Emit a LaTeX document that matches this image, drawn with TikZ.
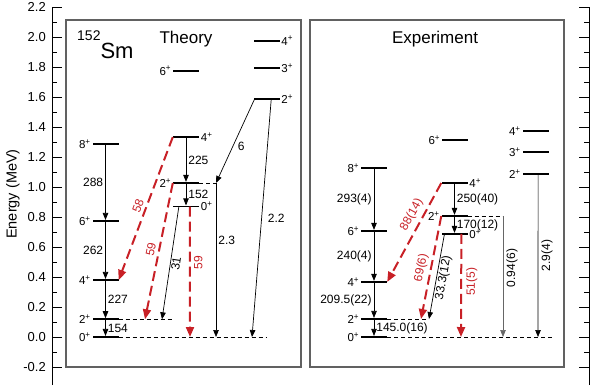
\documentclass[tikz,border=0pt]{standalone}
\usepackage{fontspec}
\setmainfont{Liberation Sans}
\usetikzlibrary{arrows.meta,calc}

\definecolor{trred}{RGB}{200,32,38}
\definecolor{boxgray}{gray}{0.38}

\begin{document}
\begin{tikzpicture}[
    x=1pt, y=150pt,
    level node/.style={rectangle, fill=black, inner sep=0pt, minimum width=26pt, minimum height=1.8pt},
    spin node/.style={inner sep=1.5pt, font=\fontsize{11.5}{12}\selectfont},
    tick node/.style={inner sep=1pt, font=\fontsize{13}{13}\selectfont},
    lab node/.style={inner sep=2pt, font=\fontsize{12}{12}\selectfont},
    red lab/.style={lab node, text=trred},
    trans edge/.style={draw=black, line width=0.7pt, -{Triangle[length=7pt, width=5.5pt]}},
    gray edge/.style={trans edge, draw=black!60},
    red edge/.style={draw=trred, line width=2pt, dash pattern=on 10pt off 5pt, -{Triangle[length=10pt, width=8pt]}},
    ext edge/.style={draw=black, line width=0.6pt, dash pattern=on 4pt off 3pt},
    panel/.style={draw=boxgray, line width=1.2pt}
]
\useasboundingbox (0,-0.32) rectangle (591,2.2467);

% 能量轴: 左侧带刻度标签, 右侧只有刻度
\draw[line width=0.8pt] (52,-0.32) -- (52,2.2);
\draw[line width=0.8pt] (589,-0.32) -- (589,2.2);
\foreach \t [count=\i] in {-0.2,0.0,0.2,0.4,0.6,0.8,1.0,1.2,1.4,1.6,1.8,2.0,2.2} {
    \pgfmathsetmacro\e{0.2*\i-0.4}
    \draw[line width=0.8pt] (52,\e) -- ++(10,0);
    \draw[line width=0.8pt] (589,\e) -- ++(-10,0);
    \node[tick node, anchor=east] (ytick\i) at (47,\e) {\t};
}
\foreach \i in {1,...,12} {
    \pgfmathsetmacro\e{0.2*\i-0.3}
    \draw[line width=0.8pt] (52,\e) -- ++(5,0);
    \draw[line width=0.8pt] (589,\e) -- ++(-5,0);
}
\node[rotate=90, font=\fontsize{14.5}{15}\selectfont] (ylab) at (13,0.953) {Energy (MeV)};

\draw[panel] (66,-0.2) rectangle (301,2.113);
\draw[panel] (310,-0.2) rectangle (564,2.113);
\node[anchor=base west, inner sep=0pt, font=\fontsize{22}{22}\selectfont] (nuc) at (77,1.857)
    {\raisebox{18pt}{\fontsize{14}{14}\selectfont 152}Sm};
\node[anchor=base, font=\fontsize{17}{17}\selectfont] (theo) at (186,1.957) {Theory};
\node[anchor=base, font=\fontsize{17}{17}\selectfont] (expt) at (435,1.957) {Experiment};

% Theory: 基态带, 第二 0+ 带, gamma 带
\node[level node] (T0)  at (105.5, 0.000) {};
\node[level node] (T2)  at (105.5, 0.118) {};
\node[level node] (T4)  at (105.5, 0.380) {};
\node[level node] (T6)  at (105.5, 0.773) {};
\node[level node] (T8)  at (105.5, 1.287) {};
\node[level node] (TB0) at (186,   0.870) {};
\node[level node] (TB2) at (186,   1.027) {};
\node[level node] (TB4) at (186,   1.333) {};
\node[level node] (TB6) at (186,   1.775) {};
\node[level node] (TG2) at (266.5, 1.587) {};
\node[level node] (TG3) at (266.5, 1.791) {};
\node[level node] (TG4) at (266.5, 1.975) {};

\node[spin node, left]  (sT0)  at (T0.west)  {0\textsuperscript{+}};
\node[spin node, left]  (sT2)  at (T2.west)  {2\textsuperscript{+}};
\node[spin node, left]  (sT4)  at (T4.west)  {4\textsuperscript{+}};
\node[spin node, left]  (sT6)  at (T6.west)  {6\textsuperscript{+}};
\node[spin node, left]  (sT8)  at (T8.west)  {8\textsuperscript{+}};
\node[spin node, right] (sTB0) at (TB0.east) {0\textsuperscript{+}};
\node[spin node, left]  (sTB2) at (TB2.west) {2\textsuperscript{+}};
\node[spin node, right] (sTB4) at (TB4.east) {4\textsuperscript{+}};
\node[spin node, left]  (sTB6) at (TB6.west) {6\textsuperscript{+}};
\node[spin node, right] (sTG2) at (TG2.east) {2\textsuperscript{+}};
\node[spin node, right] (sTG3) at (TG3.east) {3\textsuperscript{+}};
\node[spin node, right] (sTG4) at (TG4.east) {4\textsuperscript{+}};

\coordinate (T0x)  at (267, 0);
\coordinate (T2x)  at (173, 0.118);
\coordinate (TB2x) at (216, 1.027);
\coordinate (e59a) at (145, 0.118);
\coordinate (e31)  at (162, 0.118);
\coordinate (e59b) at (190, 0);
\coordinate (e23)  at (216, 0);
\coordinate (e22)  at (252, 0);
\draw[ext edge] (T0.east) -- (T0x);
\draw[ext edge] (T2.east) -- (T2x);
\draw[ext edge] (TB2.east) -- (TB2x);

\draw[trans edge] (T8) -- (T6) node[midway, left, lab node] (l288) {288};
\draw[trans edge] (T6) -- (T4) node[midway, left, lab node] (l262) {262};
\draw[trans edge] (T4) -- (T2) node[midway, right, lab node] (l227) {227};
\draw[trans edge] (T2) -- (T0) node[midway, right, lab node] (l154) {154};
\draw[trans edge] (TB4) -- (TB2) node[midway, right, lab node] (l225) {225};
\draw[trans edge] (TB2) -- (TB0) node[midway, right, lab node] (l152) {152};
\draw[trans edge] ($(TB0.west)!0.23!(TB0.east)$) -- (e31)
    node[midway, sloped, below, lab node, inner sep=1pt] (l31) {31};
\draw[trans edge] (TB2x) -- (e23) node[pos=0.37, right, lab node] (l23) {2.3};
\draw[trans edge] ($(TG2.west)!0.05!(TG2.east)$) -- (TB2x)
    node[pos=0.57, right=3pt, lab node] (l6) {6};
\draw[trans edge] ($(TG2.west)!0.68!(TG2.east)$) -- (e22)
    node[pos=0.5, right=4pt, lab node] (l22) {2.2};

% E2 跃迁 (红色虚线)
\draw[red edge] (TB4.west) -- (T4.east) node[midway, sloped, above, red lab, inner sep=3pt] (l58) {58};
\draw[red edge] (TB2.west) -- (e59a) node[midway, sloped, above, red lab, inner sep=3pt] (l59a) {59};
\draw[red edge] ($(TB0.west)!0.65!(TB0.east)$) -- (e59b)
    node[pos=0.43, rotate=90, anchor=north, red lab, inner sep=3pt] (l59b) {59};

% Experiment
\node[level node] (X0)  at (374,   0.000) {};
\node[level node] (X2)  at (374,   0.120) {};
\node[level node] (X4)  at (374,   0.367) {};
\node[level node] (X6)  at (374,   0.707) {};
\node[level node] (X8)  at (374,   1.127) {};
\node[level node] (XB0) at (454.5, 0.687) {};
\node[level node] (XB2) at (454.5, 0.807) {};
\node[level node] (XB4) at (454.5, 1.027) {};
\node[level node] (XB6) at (455,   1.313) {};
\node[level node] (XG2) at (535.5, 1.087) {};
\node[level node] (XG3) at (535.5, 1.233) {};
\node[level node] (XG4) at (535.5, 1.373) {};

\node[spin node, left]  (sX0)  at (X0.west)  {0\textsuperscript{+}};
\node[spin node, left]  (sX2)  at (X2.west)  {2\textsuperscript{+}};
\node[spin node, left]  (sX4)  at (X4.west)  {4\textsuperscript{+}};
\node[spin node, left]  (sX6)  at (X6.west)  {6\textsuperscript{+}};
\node[spin node, left]  (sX8)  at (X8.west)  {8\textsuperscript{+}};
\node[spin node, right] (sXB0) at (XB0.east) {0\textsuperscript{+}};
\node[spin node, left]  (sXB2) at (XB2.west) {2\textsuperscript{+}};
\node[spin node, right] (sXB4) at (XB4.east) {4\textsuperscript{+}};
\node[spin node, left]  (sXB6) at (XB6.west) {6\textsuperscript{+}};
\node[spin node, left]  (sXG2) at (XG2.west) {2\textsuperscript{+}};
\node[spin node, left]  (sXG3) at (XG3.west) {3\textsuperscript{+}};
\node[spin node, left]  (sXG4) at (XG4.west) {4\textsuperscript{+}};

\coordinate (X0x)  at (552, 0);
\coordinate (X2x)  at (428, 0.120);
\coordinate (XB2x) at (503, 0.807);
\coordinate (e69)  at (421, 0.120);
\coordinate (e33)  at (429, 0.120);
\coordinate (e51)  at (461, 0);
\coordinate (e094) at (503, 0);
\coordinate (e29)  at (538, 0);
\draw[ext edge] (X0.east) -- (X0x);
\draw[ext edge] (X2.east) -- (X2x);
\draw[ext edge] (XB2.east) -- (XB2x);

\draw[trans edge] (X8) -- (X6) node[midway, left, lab node] (l293) {293(4)};
\draw[trans edge] (X6) -- (X4) node[midway, left, lab node] (l240) {240(4)};
\draw[trans edge] (X4) -- (X2) node[midway, left, lab node] (l209) {209.5(22)};
\draw[trans edge] (X2) -- (X0) node[midway, right, lab node] (l145) {145.0(16)};
\draw[trans edge] (XB4) -- (XB2) node[midway, right, lab node] (l250) {250(40)};
\draw[trans edge] (XB2) -- (XB0) node[midway, right, lab node] (l170) {170(12)};
\draw[trans edge] ($(XB0.west)!0.12!(XB0.east)$) -- (e33)
    node[midway, sloped, below, lab node, inner sep=1pt] (l333) {33.3(12)};
\draw[gray edge] (XB2x) -- (e094)
    node[pos=0.43, rotate=90, anchor=north, lab node, inner sep=3pt] (l094) {0.94(6)};
\draw[trans edge] ($(XG2.west)!0.6!(XG2.east)$) -- (e29)
    node[pos=0.5, rotate=90, anchor=north, lab node, inner sep=3pt] (l29) {2.9(4)};

\draw[red edge] (XB4.west) -- (X4.east)
    node[pos=0.374, sloped, above, red lab, inner sep=4pt] (l88) {88(14)};
\draw[red edge] (XB2.west) -- (e69)
    node[pos=0.52, sloped, above, red lab, inner sep=3pt] (l69) {69(6)};
\draw[red edge] ($(XB0.west)!0.76!(XB0.east)$) -- (e51)
    node[pos=0.466, rotate=90, anchor=north, red lab, inner sep=4pt] (l51) {51(5)};

\end{tikzpicture}
\end{document}
